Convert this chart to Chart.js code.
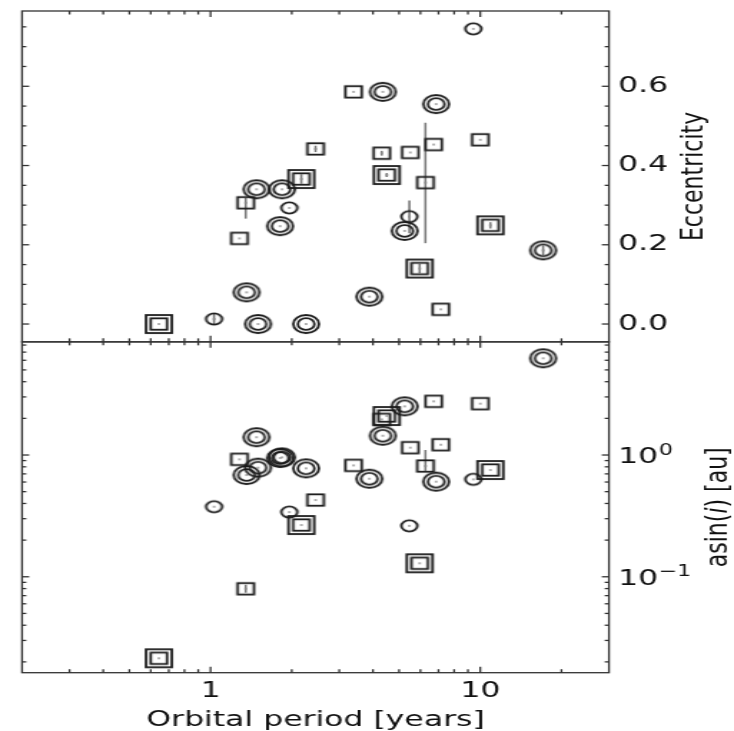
<!DOCTYPE html>
<html><head><meta charset="utf-8">
<script src="https://cdn.jsdelivr.net/npm/chart.js@4.4.1/dist/chart.umd.min.js"></script>
<style>
html,body{margin:0;padding:0;background:#fff;}
#wrap{position:absolute;left:0;top:0;width:513px;height:731px;transform:scaleX(1.4308);transform-origin:0 0;}
</style></head><body>
<div id="wrap"><canvas id="c"></canvas></div>
<script>
// ---- data ----
const periods      = [9.42, 3.39, 4.35, 6.86, 10.0, 2.45, 4.31, 5.50, 6.72, 4.50,
                      6.26, 2.17, 1.48, 1.84, 1.35, 1.96, 1.81, 1.28, 5.46, 5.24,
                      10.9, 17.1, 5.96, 1.36, 3.88, 7.14, 0.643, 1.03, 1.50, 2.26];
const eccentricity = [0.745, 0.586, 0.586, 0.555, 0.465, 0.442, 0.431, 0.433, 0.453, 0.376,
                      0.357, 0.366, 0.340, 0.340, 0.306, 0.293, 0.247, 0.216, 0.271, 0.235,
                      0.249, 0.186, 0.140, 0.080, 0.069, 0.037, 0.0, 0.0126, 0.0, 0.0];
const asini        = [0.631, 0.822, 1.44, 0.604, 2.64, 0.427, 1.96, 1.15, 2.76, 2.09,
                      0.812, 0.266, 1.40, 0.957, 0.0797, 0.340, 0.945, 0.921, 0.262, 2.51,
                      0.753, 6.23, 0.129, 0.685, 0.639, 1.215, 0.0214, 0.376, 0.787, 0.777];
const markerTypes  = ['c1','s1','c2','c2','s1','s1','s1','s1','s1','s2',
                      's1','s2','c2','c2','s1','c1','c2','s1','c1','c2',
                      's2','c2','s2','c2','c2','s1','s2','c1','c2','c2'];
const eccErrLo     = [0, 0, 0, 0, 0, 0.008, 0.006, 0, 0, 0.005,
                      0.153, 0.012, 0, 0, 0.040, 0, 0, 0, 0.042, 0,
                      0.008, 0.012, 0.012, 0, 0, 0, 0, 0.015, 0, 0];
const eccErrHi     = [0, 0, 0, 0, 0, 0.008, 0.006, 0, 0, 0.005,
                      0.151, 0.012, 0, 0, 0.012, 0, 0, 0, 0.041, 0,
                      0.008, 0.012, 0.012, 0, 0, 0, 0, 0.015, 0, 0];
const asiniLo      = [null, null, null, null, null, null, null, null, null, null,
                      0.74, null, null, null, 0.074, null, null, null, null, null,
                      null, null, null, null, null, null, null, null, null, null];
const asiniHi      = [null, null, null, null, null, null, null, null, null, null,
                      1.10, null, null, null, 0.086, null, null, null, null, null,
                      null, null, null, null, null, null, null, null, null, null];

// ---- ticks ----
const xMajorTicks     = [1, 10];
const xMinorTicks     = [0.3, 0.4, 0.5, 0.6, 0.7, 0.8, 0.9, 2, 3, 4, 5, 6, 7, 8, 9, 20];
const eccMajorTicks   = [0, 0.2, 0.4, 0.6];
const eccMinorTicks   = [0.05, 0.1, 0.15, 0.25, 0.3, 0.35, 0.45, 0.5, 0.55, 0.65, 0.7, 0.75];
const asiniMajorTicks = [0.1, 1];
const asiniMinorTicks = [0.02, 0.03, 0.04, 0.05, 0.06, 0.07, 0.08, 0.09,
                         0.2, 0.3, 0.4, 0.5, 0.6, 0.7, 0.8, 0.9, 2, 3, 4, 5, 6, 7, 8];
const asiniTickBase   = ['10', '10'];
const asiniTickExp    = ['\u22121', '0'];

const FONT = 'DejaVu Sans';
const INK = '#1a1a1a';

function makeMarker(type) {
  const c = document.createElement('canvas');
  c.width = 26; c.height = 26;
  const g = c.getContext('2d');
  const m = 13;
  g.strokeStyle = INK; g.lineWidth = 1.8;
  const circ = r => { g.beginPath(); g.arc(m, m, r, 0, Math.PI * 2); g.stroke(); };
  const sq = h => { g.strokeRect(m - h, m - h, 2 * h, 2 * h); };
  if (type === 'c2') { circ(9.0); circ(5.8); }
  else if (type === 'c1') { circ(5.6); }
  else if (type === 's1') { sq(5.7); }
  else if (type === 's2') { sq(9.0); sq(5.7); }
  g.fillStyle = '#8a8a8a';
  g.beginPath(); g.arc(m, m, 0.9, 0, Math.PI * 2); g.fill();
  return c;
}
const markerImg = {c1: makeMarker('c1'), c2: makeMarker('c2'), s1: makeMarker('s1'), s2: makeMarker('s2')};

function seg(ctx, x1, y1, x2, y2) { ctx.beginPath(); ctx.moveTo(x1, y1); ctx.lineTo(x2, y2); ctx.stroke(); }
function noPad(s) { s.paddingTop = 0; s.paddingBottom = 0; s.paddingLeft = 0; s.paddingRight = 0; }

const axesFrame = {
  id: 'axesFrame',
  beforeDatasetsDraw(chart) {
    const {ctx, scales: {x, yE, yA}} = chart;
    ctx.save();
    ctx.strokeStyle = '#7a7a7a'; ctx.lineWidth = 1.6;
    periods.forEach((p, i) => {
      const px = x.getPixelForValue(p);
      if (eccErrLo[i] || eccErrHi[i]) {
        seg(ctx, px, yE.getPixelForValue(eccentricity[i] - eccErrLo[i]), px, yE.getPixelForValue(eccentricity[i] + eccErrHi[i]));
      }
      if (asiniLo[i] != null) {
        seg(ctx, px, yA.getPixelForValue(asiniLo[i]), px, yA.getPixelForValue(asiniHi[i]));
      }
    });
    ctx.restore();
  },
  afterDatasetsDraw(chart) {
    const {ctx, scales: {x, yE, yA}} = chart;
    ctx.save();
    ctx.strokeStyle = '#333'; ctx.lineWidth = 1.3;
    const panel = (ys, majors, minors) => {
      const L = x.left, R = x.right, T = ys.top, B = ys.bottom;
      [[xMajorTicks, 6], [xMinorTicks, 3.5]].forEach(([vals, len]) => vals.forEach(v => {
        const px = x.getPixelForValue(v);
        seg(ctx, px, T, px, T + len); seg(ctx, px, B, px, B - len);
      }));
      [[majors, 5], [minors, 3]].forEach(([vals, len]) => vals.forEach(v => {
        const py = ys.getPixelForValue(v);
        seg(ctx, L, py, L + len, py); seg(ctx, R, py, R - len, py);
      }));
      ctx.strokeRect(L, T, R - L, B - T);
    };
    panel(yE, eccMajorTicks, eccMinorTicks);
    panel(yA, asiniMajorTicks, asiniMinorTicks);
    ctx.restore();
  },
  afterDraw(chart) {
    const {ctx, scales: {yE, yA}} = chart;
    ctx.save();
    ctx.fillStyle = '#111';
    // log-axis tick labels with real superscripts
    asiniMajorTicks.forEach((v, i) => {
      const py = yA.getPixelForValue(v);
      const x0 = yA.left + 6.3;
      ctx.textAlign = 'left'; ctx.textBaseline = 'alphabetic';
      ctx.font = `22px "${FONT}"`;
      ctx.fillText(asiniTickBase[i], x0, py + 8);
      const w = ctx.measureText(asiniTickBase[i]).width;
      ctx.font = `15.4px "${FONT}"`;
      ctx.fillText(asiniTickExp[i], x0 + w + 0.5, py - 0.5);
    });
    ctx.textBaseline = 'middle';
    // Eccentricity
    ctx.save();
    ctx.translate(yE.left + 60, (yE.top + yE.bottom) / 2);
    ctx.rotate(-Math.PI / 2);
    ctx.font = `22px "${FONT}"`; ctx.textAlign = 'center';
    ctx.fillText('Eccentricity', 0, 0);
    ctx.restore();
    // asin(i) [au]
    ctx.save();
    ctx.translate(yA.left + 76.5, (yA.top + yA.bottom) / 2);
    ctx.rotate(-Math.PI / 2);
    const parts = [['asin(', 'normal'], ['i', 'italic'], [') [au]', 'normal']];
    let total = 0;
    parts.forEach(([t, st]) => { ctx.font = `${st} 22px "${FONT}"`; total += ctx.measureText(t).width; });
    let cx = -total / 2;
    ctx.textAlign = 'left';
    parts.forEach(([t, st]) => { ctx.font = `${st} 22px "${FONT}"`; ctx.fillText(t, cx, 0); cx += ctx.measureText(t).width; });
    ctx.restore();
    ctx.restore();
  }
};

const tickFont = {family: FONT, size: 22};

new Chart(document.getElementById('c'), {
  type: 'scatter',
  data: {
    datasets: [
      {label: 'Eccentricity', xAxisID: 'x', yAxisID: 'yE',
       data: periods.map((p, i) => ({x: p, y: eccentricity[i]})),
       pointStyle: ctx => markerImg[markerTypes[ctx.dataIndex]], pointRadius: 10},
      {label: 'asin(i)', xAxisID: 'x', yAxisID: 'yA',
       data: periods.map((p, i) => ({x: p, y: asini[i]})),
       pointStyle: ctx => markerImg[markerTypes[ctx.dataIndex]], pointRadius: 10}
    ]
  },
  options: {
    responsive: true, maintainAspectRatio: false, animation: false,
    layout: {padding: {left: 15.4, top: 10, right: 0, bottom: 0}},
    plugins: {legend: {display: false}, tooltip: {enabled: false}},
    scales: {
      x: {type: 'logarithmic', position: 'bottom', min: 0.2, max: 30, bounds: 'data',
          grid: {display: false, drawTicks: false}, border: {display: false},
          afterBuildTicks: s => { s.ticks = xMajorTicks.map(v => ({value: v})); },
          ticks: {autoSkip: false, maxRotation: 0, padding: 5, font: tickFont, color: '#111', callback: v => String(v)},
          title: {display: true, text: 'Orbital period [years]', font: {family: FONT, size: 22, lineHeight: 1.0}, color: '#111', padding: 0},
          afterFit: s => { s.height = 58.3; noPad(s); }},
      yE: {type: 'linear', position: 'right', stack: 'panels', stackWeight: 1, min: -0.045, max: 0.79, bounds: 'data',
           grid: {display: false, drawTicks: false}, border: {display: false},
           afterBuildTicks: s => { s.ticks = eccMajorTicks.map(v => ({value: v})); },
           ticks: {autoSkip: false, padding: 6.3, font: tickFont, color: '#111', callback: v => Number(v).toFixed(1)},
           afterFit: s => { s.width = 87.4; noPad(s); }},
      yA: {type: 'logarithmic', position: 'right', stack: 'panels', stackWeight: 1, min: 0.0163, max: 8.5, bounds: 'data',
           grid: {display: false, drawTicks: false}, border: {display: false},
           afterBuildTicks: s => { s.ticks = asiniMajorTicks.map(v => ({value: v})); },
           ticks: {autoSkip: false, padding: 6.3, font: tickFont, color: '#111', callback: () => ''},
           afterFit: s => { s.width = 87.4; noPad(s); }}
    }
  },
  plugins: [axesFrame]
});
</script>
</body></html>
